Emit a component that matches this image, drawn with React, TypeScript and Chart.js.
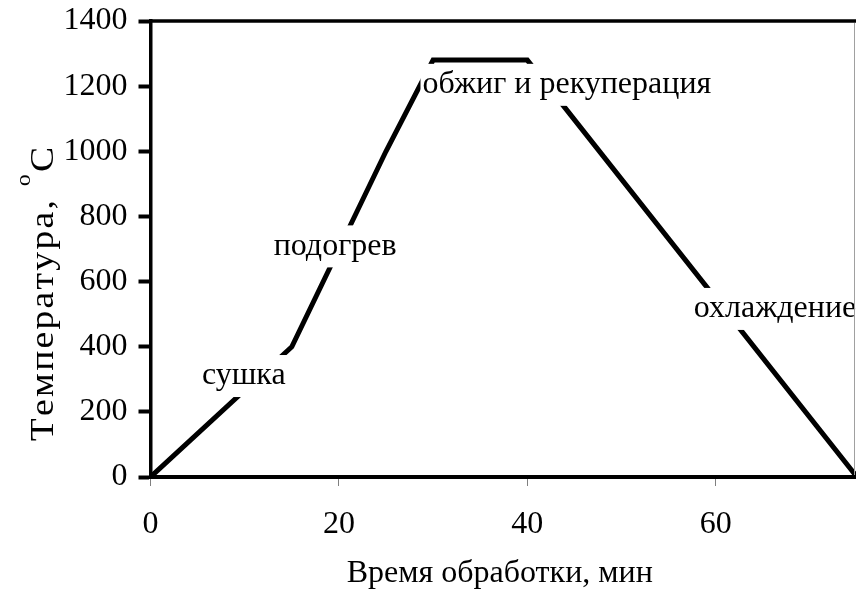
import React, { useEffect, useRef } from "react";
import { Chart, registerables } from "chart.js";

Chart.register(...registerables);

// ---- data ----
const timeMin = [0, 15, 25, 30, 40, 75];
const temperatureC = [0, 400, 1000, 1280, 1280, 0];
const xTickValues = [0, 20, 40, 60];
const yTickValues = [0, 200, 400, 600, 800, 1000, 1200, 1400];
const stageLabels = ["сушка", "подогрев", "обжиг и рекуперация", "охлаждение"];
const stageLabelX = [9.9, 19.6, 44.2, 66.3];
const stageLabelY = [310, 708, 1204, 516];
const xTitle = "Время обработки, мин";
const yTitleMain = "Температура, ";
const yTitleSup = "o";
const yTitleUnit = "C";

const FONT = "'Liberation Serif', 'Times New Roman', serif";
const FS = 32;
const VIEW_W = 856;
const VIEW_H = 590;
const CANVAS_W = 880;

function drawSpaced(ctx: CanvasRenderingContext2D, text: string, x: number, y: number, spacing: number) {
  let px = x;
  for (const ch of text) {
    ctx.fillText(ch, px, y);
    px += ctx.measureText(ch).width + spacing;
  }
  return px - x;
}
function measureSpaced(ctx: CanvasRenderingContext2D, text: string, spacing: number) {
  let w = 0;
  for (const ch of text) w += ctx.measureText(ch).width + spacing;
  return w;
}

const decorPlugin = {
  id: "decor",
  afterDatasetsDraw(chart: any) {
    const ctx = chart.ctx;
    const xs = chart.scales.x;
    const ys = chart.scales.y;
    ctx.save();
    ctx.font = `${FS}px ${FONT}`;
    ctx.textAlign = "center";
    ctx.textBaseline = "middle";
    stageLabels.forEach((t, i) => {
      const cx = xs.getPixelForValue(stageLabelX[i]);
      const cy = ys.getPixelForValue(stageLabelY[i]);
      const w = ctx.measureText(t).width;
      ctx.fillStyle = "#ffffff";
      ctx.fillRect(cx - w / 2 - 2, cy - 21, w + 4, 42);
      ctx.fillStyle = "#000000";
      ctx.fillText(t, cx, cy);
    });
    ctx.restore();
  },
  afterDraw(chart: any) {
    const ctx = chart.ctx;
    const a = chart.chartArea;
    ctx.save();
    // top frame line
    ctx.strokeStyle = "#000000";
    ctx.lineWidth = 3.5;
    ctx.beginPath();
    ctx.moveTo(a.left - 1.5, a.top);
    ctx.lineTo(a.right, a.top);
    ctx.stroke();
    // right frame (thin gray) at visible edge
    ctx.strokeStyle = "#a0a0a0";
    ctx.lineWidth = 1;
    ctx.beginPath();
    ctx.moveTo(VIEW_W - 1.5, a.top + 2);
    ctx.lineTo(VIEW_W - 1.5, a.bottom - 2);
    ctx.stroke();

    // x title
    ctx.fillStyle = "#000000";
    ctx.font = `${FS}px ${FONT}`;
    ctx.textAlign = "center";
    ctx.textBaseline = "alphabetic";
    ctx.fillText(xTitle, (a.left + a.right) / 2 - 4, 582);

    // y title rotated with superscript (stretched along its direction)
    const sp = 2;
    const stretch = 1.14;
    const cx = 53;
    const cy = 294;
    ctx.translate(cx, cy);
    ctx.rotate(-Math.PI / 2);
    ctx.scale(stretch, 1);
    ctx.textAlign = "left";
    ctx.font = `33px ${FONT}`;
    const w1 = measureSpaced(ctx, yTitleMain, sp);
    const w3 = measureSpaced(ctx, yTitleUnit, 0);
    ctx.font = `21px ${FONT}`;
    const w2 = measureSpaced(ctx, yTitleSup, sp);
    const total = w1 + w2 + w3;
    let px = -total / 2;
    ctx.font = `33px ${FONT}`;
    drawSpaced(ctx, yTitleMain, px, 0, sp);
    px += w1;
    ctx.font = `21px ${FONT}`;
    drawSpaced(ctx, yTitleSup, px, -23, sp);
    px += w2;
    ctx.font = `33px ${FONT}`;
    drawSpaced(ctx, yTitleUnit, px, 0, 0);
    ctx.restore();
  },
};

export default function App() {
  const ref = useRef<HTMLCanvasElement | null>(null);
  useEffect(() => {
    if (!ref.current) return;
    const chart = new Chart(ref.current, {
      type: "line",
      data: {
        datasets: [
          {
            data: timeMin.map((t, i) => ({ x: t, y: temperatureC[i] })),
            borderColor: "#000000",
            borderWidth: 5,
            pointRadius: 0,
            tension: 0,
            fill: false,
            borderJoinStyle: "miter",
          },
        ],
      },
      options: {
        animation: false,
        responsive: false,
        maintainAspectRatio: false,
        devicePixelRatio: 1,
        layout: { padding: { left: 0, top: 21, right: CANVAS_W - 857, bottom: 0 } },
        plugins: { legend: { display: false }, tooltip: { enabled: false } },
        scales: {
          x: {
            type: "linear",
            min: 0,
            max: 75,
            afterBuildTicks: (s: any) => {
              s.ticks = xTickValues.map((v) => ({ value: v }));
            },
            afterFit: (s: any) => {
              s.height = VIEW_H - 477;
              s.paddingLeft = 0;
              s.paddingRight = 0;
            },
            grid: {
              drawOnChartArea: false,
              drawTicks: true,
              tickLength: 9,
              tickColor: "#808080",
              tickWidth: 1,
            },
            border: { display: true, color: "#000000", width: 4 },
            ticks: {
              padding: 19,
              color: "#000000",
              font: { family: FONT, size: FS },
              maxRotation: 0,
              callback: (v: any) => String(v),
            },
          },
          y: {
            type: "linear",
            min: 0,
            max: 1400,
            afterBuildTicks: (s: any) => {
              s.ticks = yTickValues.map((v) => ({ value: v }));
            },
            afterFit: (s: any) => {
              s.width = 150.5;
              s.paddingTop = 0;
              s.paddingBottom = 0;
            },
            grid: {
              drawOnChartArea: false,
              drawTicks: true,
              tickLength: 12,
              tickColor: "#000000",
              tickWidth: 4,
            },
            border: { display: true, color: "#000000", width: 3.5 },
            ticks: {
              padding: 11,
              color: "#000000",
              font: { family: FONT, size: FS },
              callback: (v: any) => String(v),
            },
          },
        },
      },
      plugins: [decorPlugin],
    });
    return () => chart.destroy();
  }, []);

  return (
    <div
      style={{
        position: "fixed",
        left: 0,
        top: 0,
        width: VIEW_W,
        height: VIEW_H,
        overflow: "hidden",
        background: "#ffffff",
      }}
    >
      <canvas ref={ref} width={CANVAS_W} height={VIEW_H} style={{ display: "block" }} />
    </div>
  );
}
